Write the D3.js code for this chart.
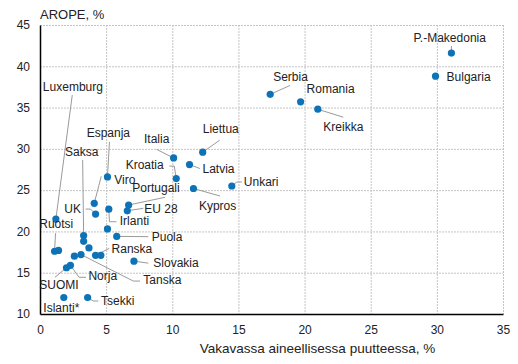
<!DOCTYPE html>
<html>
<head>
<meta charset="utf-8">
<script src="https://cdn.jsdelivr.net/npm/d3@7"></script>
<style>
  body { margin: 0; background: #fff; }
  svg text { font-family: "Liberation Sans", Arial, sans-serif; fill: #222; }
</style>
</head>
<body>
<div id="chart"></div>
<script>
// data (2017) - severe material deprivation % vs AROPE %
var countries = ["P.-Makedonia", "Bulgaria", "Serbia", "Romania", "Kreikka", "Liettua", "Italia", "Latvia",
  "Kroatia", "Espanja", "Viro", "Unkari", "Kypros", "Portugali", "EU 28", "UK", "Irlanti", "Luxemburg",
  "Saksa", "Ruotsi", "Puola", "Ranska", "Slovakia", "Tanska", "Norja", "SUOMI", "Islanti*", "Tsekki",
  "", "", "", "", "", ""];
var deprivation = [31.1, 29.9, 17.4, 19.7, 21.0, 12.3, 10.1, 11.3,
  10.3, 5.1, 4.1, 14.5, 11.6, 6.7, 6.6, 4.2, 5.2, 1.2,
  3.3, 1.1, 5.8, 4.2, 7.1, 3.1, 2.3, 2.0, 1.8, 3.6,
  5.1, 3.3, 3.7, 2.6, 4.6, 1.4];
var arope = [41.6, 38.8, 36.6, 35.7, 34.8, 29.6, 28.9, 28.1,
  26.4, 26.6, 23.4, 25.5, 25.2, 23.2, 22.5, 22.1, 22.7, 21.5,
  19.5, 17.6, 19.4, 17.1, 16.4, 17.2, 15.9, 15.6, 12.0, 12.0,
  20.3, 18.8, 18.0, 17.0, 17.1, 17.7];
var xTicks = [0, 5, 10, 15, 20, 25, 30, 35];
var yTicks = [10, 15, 20, 25, 30, 35, 40, 45];

// label placement: text offset from point [dx, dy], leader line path (offsets)
var labelLayout = {
  "P.-Makedonia": { t: [-38, -11], l: [[0, -7]] },
  "Bulgaria": { t: [11, 5] },
  "Serbia": { t: [3, -13], l: [[20, -9]] },
  "Romania": { t: [6, -9] },
  "Kreikka": { t: [5.5, 21.5], l: [[25.5, 8]] },
  "Liettua": { t: [0, -19], l: [[17, -12]] },
  "Italia": { t: [-29.6, -14.6], l: [[-17, -8.6]] },
  "Latvia": { t: [13, 8], l: [[10.5, 4]] },
  "Kroatia": { t: [-50.6, -9.3], l: [[-2, -12.5], [-7, -12.5]] },
  "Espanja": { t: [-20.8, -39.6], l: [[2, -35]] },
  "Viro": { t: [20, -19.4], l: [[7, -27]] },
  "Unkari": { t: [12, 0], l: [[5, -4], [10, -4]] },
  "Kypros": { t: [5.5, 21.5], l: [[26.5, 7.5]] },
  "Portugali": { t: [3.7, -13.3], l: [[36.4, -7.7]] },
  "EU 28": { t: [17, 2], l: [[16, -2.5]] },
  "UK": { t: [-31.3, -1], l: [[-5, -5], [-10, -5]] },
  "Irlanti": { t: [11, 16], l: [[0.7, 12.6], [7.7, 12.6]] },
  "Luxemburg": { t: [-13, -128], l: [[16.4, -124]] },
  "Saksa": { t: [-18.7, -79.6], l: [[-1, -75.6]] },
  "Ruotsi": { t: [-15.3, -23], l: [[1, -18]] },
  "Puola": { t: [35, 5], l: [[31.6, 0.3]] },
  "Ranska": { t: [16, -2], l: [[13.7, -7]] },
  "Slovakia": { t: [19.4, 5.5], l: [[14.4, 2]] },
  "Tanska": { t: [62.3, 29.8], l: [[52.3, 26.5], [59, 26.5]] },
  "Norja": { t: [18, 14.7], l: [[8.6, 12], [15.6, 12]] },
  "SUOMI": { t: [-27.2, 21.5], l: [[-11.5, 9.5]] },
  "Islanti*": { t: [-20.5, 14.2] },
  "Tsekki": { t: [13.4, 7.5], l: [[5.7, 3.5], [10.7, 3.5]] }
};

var data = countries.map(function (c, i) {
  return { name: c, x: deprivation[i], y: arope[i] };
});

var margin = { top: 25, right: 15, bottom: 50, left: 40 },
  width = 518 - margin.left - margin.right,
  height = 364 - margin.top - margin.bottom;

var x = d3.scaleLinear().domain([0, 35]).range([0, width]);
var y = d3.scaleLinear().domain([10, 45]).range([height, 0]);

var svg = d3.select("#chart")
  .append("svg")
  .attr("width", 518)
  .attr("height", 364);

var g = svg.append("g")
  .attr("transform", "translate(" + margin.left + "," + margin.top + ")");

// grid
g.append("g")
  .selectAll("line")
  .data(xTicks.slice(1))
  .enter()
  .append("line")
  .attr("x1", (d) => x(d) + 0.5).attr("x2", (d) => x(d) + 0.5)
  .attr("y1", 0).attr("y2", height)
  .attr("stroke", "#c4c4c4")
  .attr("stroke-dasharray", "2,1");
g.append("g")
  .selectAll("line")
  .data(yTicks.slice(1))
  .enter()
  .append("line")
  .attr("y1", (d) => y(d) + 0.5).attr("y2", (d) => y(d) + 0.5)
  .attr("x1", 0).attr("x2", width)
  .attr("stroke", "#c4c4c4")
  .attr("stroke-dasharray", "2,1");

// axes
var xAxis = g.append("g")
  .attr("transform", "translate(0," + height + ")")
  .call(d3.axisBottom(x).tickValues(xTicks).tickSize(0).tickPadding(11));
var yAxis = g.append("g")
  .call(d3.axisLeft(y).tickValues(yTicks).tickSize(0).tickPadding(10));
[xAxis, yAxis].forEach(function (a) {
  a.select(".domain").attr("stroke", "#000").attr("stroke-width", 1.5);
  a.selectAll("text").style("font-size", "12px").attr("fill", "#222");
});

// leader lines
var lbl = data.filter((d) => labelLayout[d.name] && labelLayout[d.name].l);
g.append("g")
  .selectAll("polyline")
  .data(lbl)
  .enter()
  .append("polyline")
  .attr("points", function (d) {
    var px = x(d.x), py = y(d.y);
    var pts = [[px, py]].concat(labelLayout[d.name].l.map((o) => [px + o[0], py + o[1]]));
    return pts.map((p) => p.join(",")).join(" ");
  })
  .attr("fill", "none")
  .attr("stroke", "#9a9a9a")
  .attr("stroke-width", 1);

// points
g.append("g")
  .selectAll("circle")
  .data(data)
  .enter()
  .append("circle")
  .attr("cx", (d) => x(d.x))
  .attr("cy", (d) => y(d.y))
  .attr("r", 3.6)
  .attr("fill", "#0d73b6");

// labels
g.append("g")
  .selectAll("text")
  .data(data.filter((d) => labelLayout[d.name]))
  .enter()
  .append("text")
  .attr("x", (d) => x(d.x) + labelLayout[d.name].t[0])
  .attr("y", (d) => y(d.y) + labelLayout[d.name].t[1])
  .style("font-size", "12px")
  .text((d) => d.name);

// titles
svg.append("text")
  .attr("x", 40)
  .attr("y", 19)
  .style("font-size", "13px")
  .text("AROPE, %");
svg.append("text")
  .attr("x", margin.left + width / 2 + 46)
  .attr("y", 353)
  .attr("text-anchor", "middle")
  .style("font-size", "13.5px")
  .text("Vakavassa aineellisessa puutteessa, %");
</script>
</body>
</html>
